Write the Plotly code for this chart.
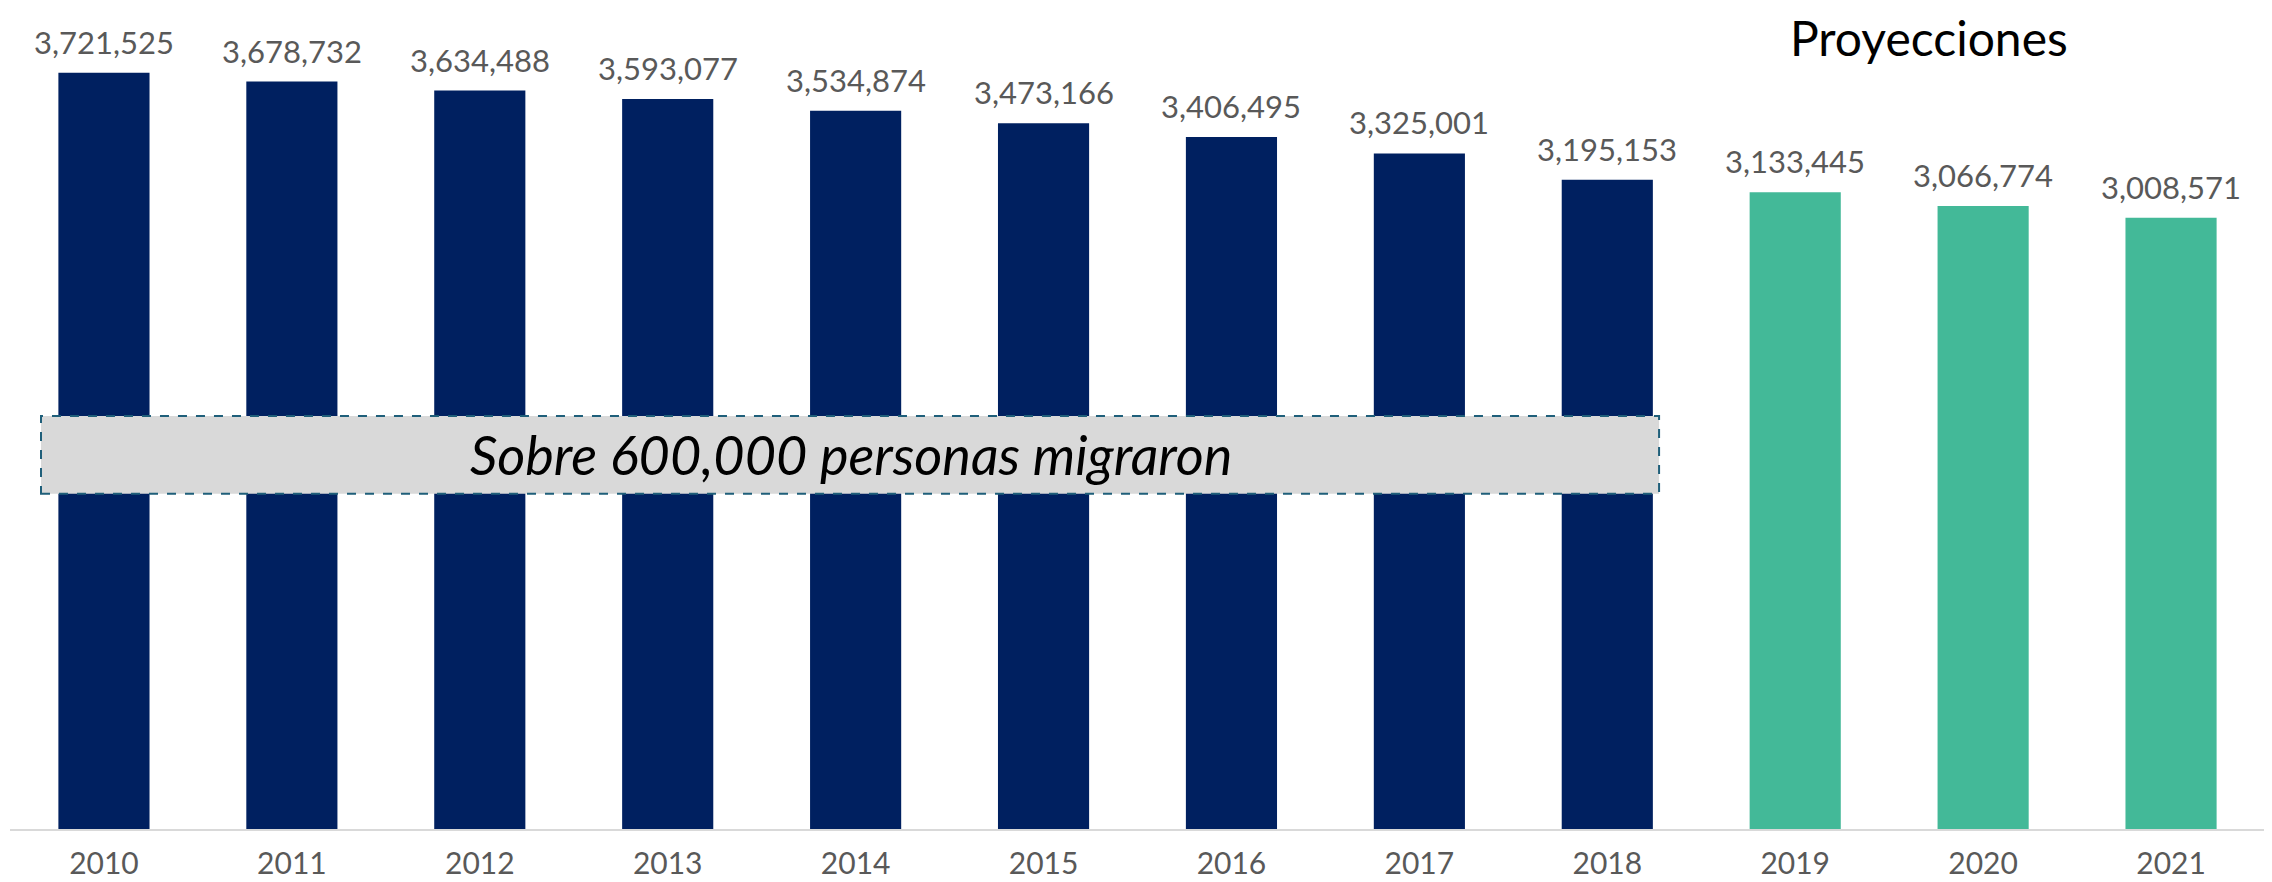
import plotly.graph_objects as go

# Data
years = ['2010', '2011', '2012', '2013', '2014', '2015', '2016', '2017', '2018',
         '2019', '2020', '2021']
population = [3721525, 3678732, 3634488, 3593077, 3534874, 3473166, 3406495,
              3325001, 3195153, 3133445, 3066774, 3008571]
projected = [False] * 9 + [True] * 3

COLORS = {
    'actual': '#002060',
    'projection': '#43B998',
    'label': '#595959',
    'axis': '#D9D9D9',
    'box': '#D9D9D9',
    'box_line': '#1F5F7A',
}
FONT = "Century Gothic, Lato, sans-serif"

bar_colors = [COLORS['projection'] if p else COLORS['actual'] for p in projected]

fig = go.Figure()

fig.add_trace(go.Bar(
    x=years,
    y=population,
    marker=dict(color=bar_colors, line=dict(width=0)),
    hovertemplate='%{x}: %{y:,.0f}<extra></extra>',
))

# Value labels above each bar (category axis -> use serial index for x)
annotations = [
    dict(x=i, y=val, text=f"{val:,}", xref='x', yref='y',
         showarrow=False, yanchor='bottom', yshift=10,
         font=dict(family=FONT, size=31, color=COLORS['label']))
    for i, val in enumerate(population)
]

# "Proyecciones" header, pinned to the top edge of the figure
annotations.append(dict(
    x=0.851, y=1.0148, xref='paper', yref='paper', text="Proyecciones",
    showarrow=False, xanchor='center', yanchor='top', borderpad=0,
    font=dict(family=FONT, size=48, color='black'),
))

annotations.append(dict(
    x=0.373, y=0.4624, xref='paper', yref='paper',
    text="<i>Sobre 600,000 personas migraron</i>",
    showarrow=False, xanchor='center', yanchor='middle',
    font=dict(family=FONT, size=54, color='black'),
))

# page body has an 8px default margin, so the figure is sized/offset for it
fig.update_layout(
    width=2264,
    height=874,
    margin=dict(l=2, r=7, t=12, b=51),
    paper_bgcolor='white',
    plot_bgcolor='white',
    showlegend=False,
    bargap=0.515,
    annotations=annotations,
    shapes=[dict(
        type='rect', xref='paper', yref='paper',
        x0=0.01375, x1=0.7313, y0=0.4143, y1=0.5105,
        fillcolor=COLORS['box'],
        line=dict(color=COLORS['box_line'], width=2, dash='dash'),
        layer='above',
    )],
    xaxis=dict(
        type='category',
        range=[-0.5, len(years) - 0.5],
        showgrid=False,
        showline=True,
        linecolor=COLORS['axis'],
        linewidth=2,
        ticks='',
        ticklabelstandoff=7,
        tickfont=dict(family=FONT, size=30, color=COLORS['label']),
    ),
    yaxis=dict(
        range=[0, 3981740],
        visible=False,
        showgrid=False,
        zeroline=False,
    ),
)

fig.write_html("out.html")
